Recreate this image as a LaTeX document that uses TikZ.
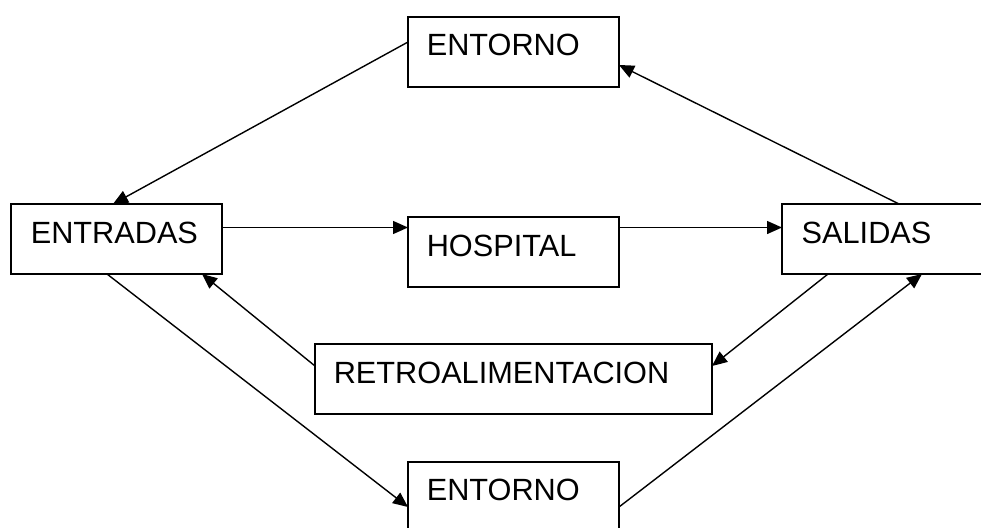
\documentclass[tikz,border=0pt]{standalone}
\usepackage{fontspec}
\setmainfont{Liberation Sans}
\usetikzlibrary{arrows.meta,calc}
\begin{document}
\begin{tikzpicture}[x=1pt,y=-1pt,
  box/.style={draw, line width=1.5pt, minimum height=70pt, anchor=north west,
              inner sep=0pt, outer sep=0pt},
  lbl/.style={anchor=base west, inner sep=0pt, font=\fontsize{30.7}{36}\selectfont},
  conn/.style={line width=1.4pt, -{Triangle[length=15pt,width=13pt]}}]
\useasboundingbox (0,0) rectangle (981,527);
\clip (0,0) rectangle (981,527);

% boxes
\node[box, minimum width=211pt] (envtop) at (408,17)  {};
\node[box, minimum width=211pt] (inputs) at (11,204)  {};
\node[box, minimum width=211pt] (hosp)   at (408,217) {};
\node[box, minimum width=211pt] (outputs) at (782,204) {};
\node[box, minimum width=397pt] (feedb)  at (315,344) {};
\node[box, minimum width=211pt] (envbot) at (408,462) {};

% labels
\node[lbl] (envtopT)  at ($(envtop.north west)+(18.6,38.5)$)  {ENTORNO};
\node[lbl] (inputsT)  at ($(inputs.north west)+(19.6,39)$)    {ENTRADAS};
\node[lbl] (hospT)    at ($(hosp.north west)+(18.6,39)$)      {HOSPITAL};
\node[lbl] (outputsT) at ($(outputs.north west)+(19.5,39)$)   {SALIDAS};
\node[lbl] (feedbT)   at ($(feedb.north west)+(18.6,39)$)     {RETROALIMENTACION};
\node[lbl] (envbotT)  at ($(envbot.north west)+(18.6,38)$)    {ENTORNO};

% connectors
\draw[conn] ($(envtop.north west)+(0,25)$) -- ($(inputs.north west)+(102,0)$);
\draw[conn] ($(outputs.north west)+(117,0)$) -- ($(envtop.north east)+(0,48)$);
\draw[conn] ($(inputs.north east)+(0,23.5)$) -- ($(hosp.north west)+(0,10.5)$);
\draw[conn] ($(hosp.north east)+(0,10.5)$) -- ($(outputs.north west)+(0,23.5)$);
\draw[conn] ($(outputs.south west)+(46,0)$) -- ($(feedb.north east)+(0,22)$);
\draw[conn] ($(feedb.north west)+(0,22)$) -- ($(inputs.south west)+(191,0)$);
\draw[conn] ($(inputs.south west)+(96,0)$) -- ($(envbot.north west)+(0,45)$);
\draw[conn] ($(envbot.north east)+(0,45)$) -- ($(outputs.south west)+(140,0)$);
\end{tikzpicture}
\end{document}
